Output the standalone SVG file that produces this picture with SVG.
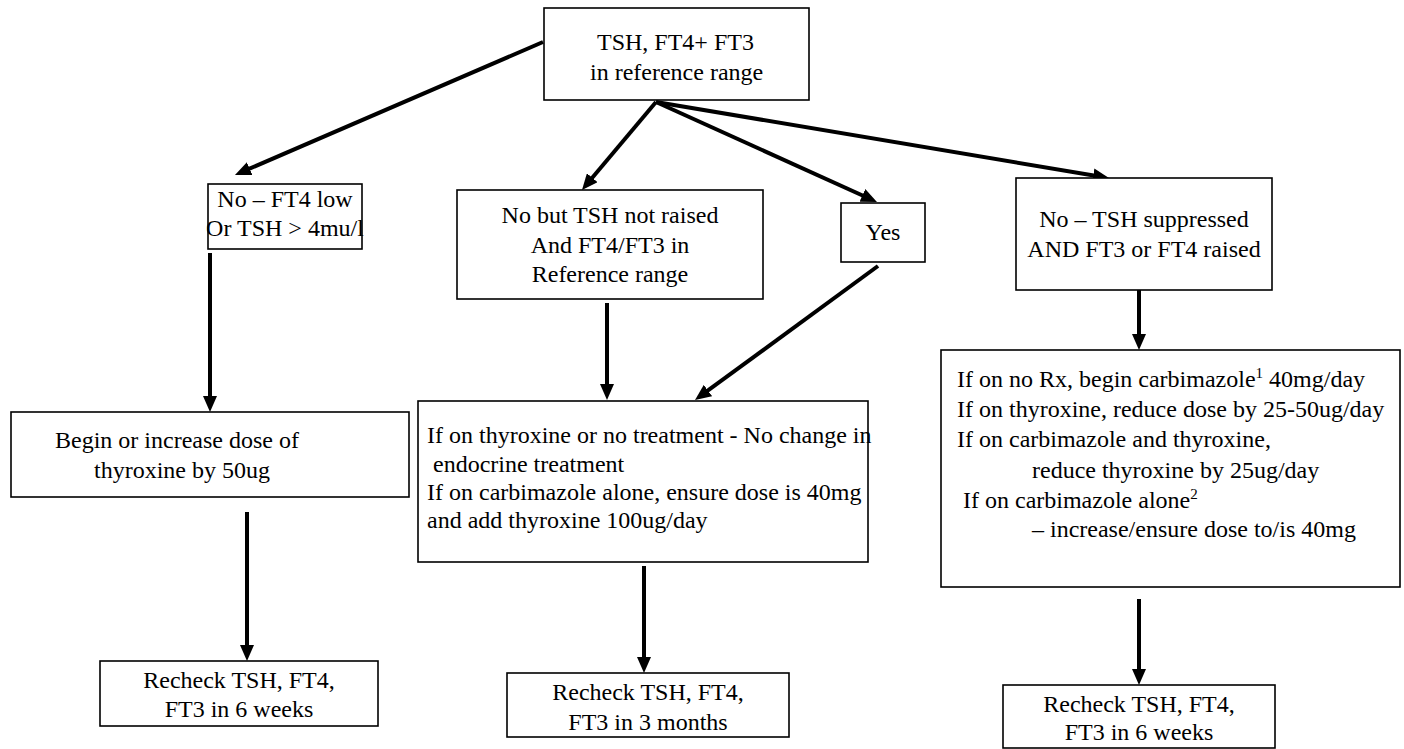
<svg xmlns="http://www.w3.org/2000/svg" width="1404" height="749" viewBox="0 0 1404 749" font-family="Liberation Serif">
<defs>
<marker id="ah" markerUnits="userSpaceOnUse" markerWidth="16" markerHeight="14" refX="2" refY="7" orient="auto">
<path d="M0,0 L16,7 L0,14 z" fill="#000"/>
</marker>
</defs>
<rect width="1404" height="749" fill="#fff"/>
<g id="connectors" stroke="#000" stroke-width="4" fill="none" marker-end="url(#ah)">
<line x1="543" y1="42" x2="247.8" y2="169.4"/>
<line x1="656" y1="102" x2="591" y2="179.3"/>
<line x1="656" y1="102" x2="864.2" y2="196.2"/>
<line x1="656" y1="102" x2="1095.2" y2="175.7"/>
<line x1="210" y1="253" x2="210" y2="398"/>
<line x1="607" y1="303" x2="607" y2="386"/>
<line x1="878" y1="266" x2="706.3" y2="391.7"/>
<line x1="1139" y1="290" x2="1139" y2="336"/>
<line x1="247" y1="512" x2="247" y2="647"/>
<line x1="644" y1="566" x2="644" y2="659"/>
<line x1="1139" y1="599" x2="1139" y2="671"/>
</g>
<g id="start">
<rect x="544" y="8" width="265" height="92" fill="#fff" stroke="#000" stroke-width="1.6"/>
<text x="597" y="50" font-size="24" font-family="Liberation Serif">TSH, FT4+ FT3</text>
<text x="590" y="80" font-size="24" font-family="Liberation Serif"> in reference range</text>
</g>
<g id="no-low">
<rect x="208" y="184" width="154" height="65" fill="#fff" stroke="#000" stroke-width="1.6"/>
<text x="285" y="207" font-size="24" font-family="Liberation Serif" text-anchor="middle">No &#8211; FT4 low</text>
<text x="285" y="236" font-size="24" font-family="Liberation Serif" text-anchor="middle">Or TSH &#62; 4mu/l</text>
</g>
<g id="no-notraised">
<rect x="457" y="190" width="306" height="109" fill="#fff" stroke="#000" stroke-width="1.6"/>
<text x="610" y="223" font-size="24" font-family="Liberation Serif" text-anchor="middle">No but TSH not raised</text>
<text x="610" y="253" font-size="24" font-family="Liberation Serif" text-anchor="middle">And FT4/FT3 in</text>
<text x="610" y="282" font-size="24" font-family="Liberation Serif" text-anchor="middle">Reference range</text>
</g>
<g id="yes">
<rect x="841" y="203" width="84" height="59" fill="#fff" stroke="#000" stroke-width="1.6"/>
<text x="883" y="240" font-size="24" font-family="Liberation Serif" text-anchor="middle">Yes</text>
</g>
<g id="no-suppressed">
<rect x="1016" y="178" width="256" height="112" fill="#fff" stroke="#000" stroke-width="1.6"/>
<text x="1144" y="227" font-size="24" font-family="Liberation Serif" text-anchor="middle">No &#8211; TSH suppressed</text>
<text x="1144" y="257" font-size="24" font-family="Liberation Serif" text-anchor="middle">AND FT3 or FT4 raised</text>
</g>
<g id="increase">
<rect x="11" y="412" width="398" height="85" fill="#fff" stroke="#000" stroke-width="1.6"/>
<text x="55" y="448" font-size="24" font-family="Liberation Serif">Begin or increase dose of</text>
<text x="94" y="478" font-size="24" font-family="Liberation Serif">thyroxine by 50ug</text>
</g>
<g id="nochange">
<rect x="418" y="401" width="450" height="161" fill="#fff" stroke="#000" stroke-width="1.6"/>
<text x="427" y="443" font-size="24" font-family="Liberation Serif">If on thyroxine or no treatment - No change in</text>
<text x="433" y="472" font-size="24" font-family="Liberation Serif">endocrine treatment</text>
<text x="427" y="500" font-size="24" font-family="Liberation Serif">If on carbimazole alone, ensure dose is 40mg</text>
<text x="427" y="528" font-size="24" font-family="Liberation Serif">and add thyroxine 100ug/day</text>
</g>
<g id="reduce">
<rect x="941" y="350" width="459" height="237" fill="#fff" stroke="#000" stroke-width="1.6"/>
<text x="957" y="387" font-size="24" font-family="Liberation Serif">If on no Rx, begin carbimazole<tspan font-size="15" dy="-9">1</tspan><tspan dy="9"> 40mg/day</tspan></text>
<text x="957" y="417" font-size="24" font-family="Liberation Serif">If on thyroxine, reduce dose by 25-50ug/day</text>
<text x="957" y="447" font-size="24" font-family="Liberation Serif">If on carbimazole and thyroxine,</text>
<text x="1032" y="478" font-size="24" font-family="Liberation Serif">reduce thyroxine by 25ug/day</text>
<text x="963" y="508" font-size="24" font-family="Liberation Serif">If on carbimazole alone<tspan font-size="15" dy="-9">2</tspan></text>
<text x="1032" y="537" font-size="24" font-family="Liberation Serif">&#8211; increase/ensure dose to/is 40mg</text>
</g>
<g id="recheck-left">
<rect x="100" y="661" width="278" height="65" fill="#fff" stroke="#000" stroke-width="1.6"/>
<text x="239" y="688" font-size="24" font-family="Liberation Serif" text-anchor="middle">Recheck TSH, FT4,</text>
<text x="239" y="717" font-size="24" font-family="Liberation Serif" text-anchor="middle">FT3 in 6 weeks</text>
</g>
<g id="recheck-mid">
<rect x="507" y="673" width="282" height="64" fill="#fff" stroke="#000" stroke-width="1.6"/>
<text x="648" y="700" font-size="24" font-family="Liberation Serif" text-anchor="middle">Recheck TSH, FT4,</text>
<text x="648" y="730" font-size="24" font-family="Liberation Serif" text-anchor="middle">FT3 in 3 months</text>
</g>
<g id="recheck-right">
<rect x="1003" y="685" width="272" height="63" fill="#fff" stroke="#000" stroke-width="1.6"/>
<text x="1139" y="712" font-size="24" font-family="Liberation Serif" text-anchor="middle">Recheck TSH, FT4,</text>
<text x="1139" y="740" font-size="24" font-family="Liberation Serif" text-anchor="middle">FT3 in 6 weeks</text>
</g>
</svg>
